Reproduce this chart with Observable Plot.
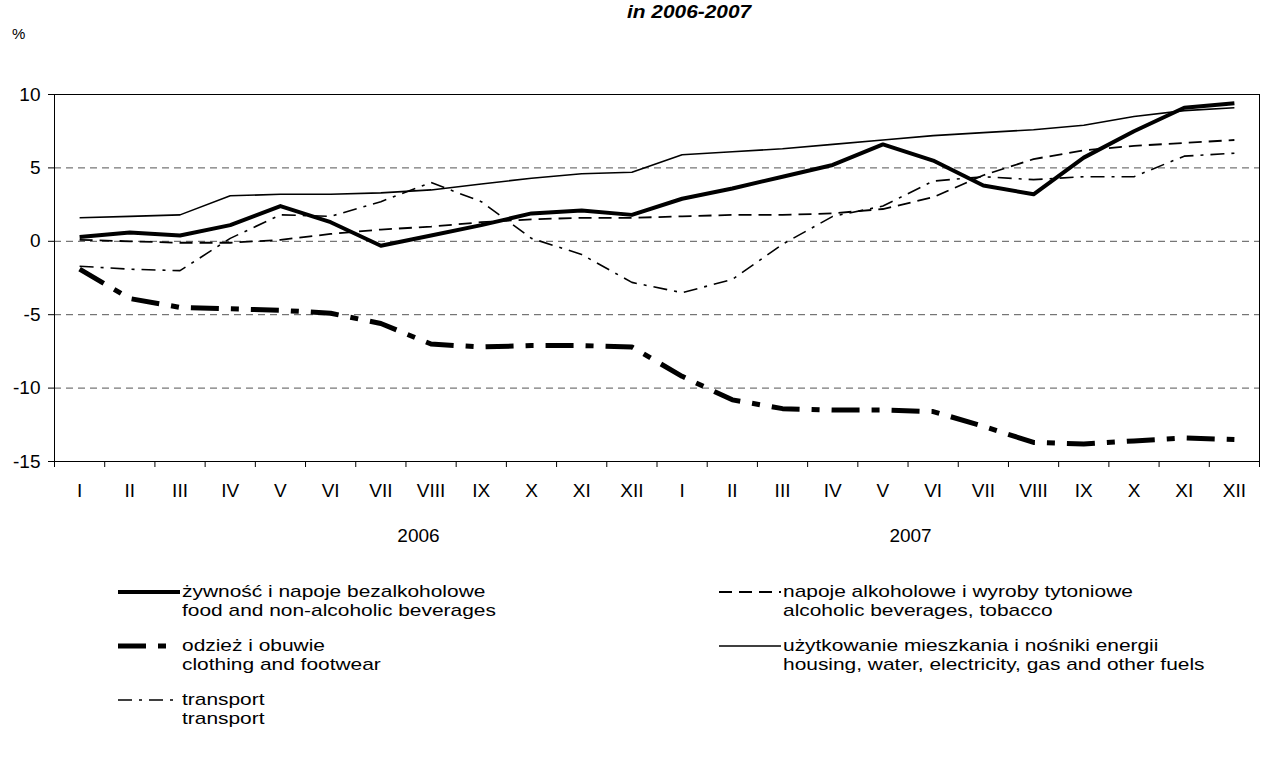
<!DOCTYPE html>
<html><head><meta charset="utf-8">
<script src="https://cdn.jsdelivr.net/npm/d3@7"></script>
<script src="https://cdn.jsdelivr.net/npm/@observablehq/plot@0.6"></script>
<style>
body{margin:0;background:#fff;font-family:"Liberation Sans",Arial,sans-serif;color:#000;}
#wrap{position:relative;width:1267px;height:763px;overflow:hidden;background:#fff;}
#chart{position:absolute;left:0;top:0;z-index:0;}
.title{position:absolute;z-index:2;left:627px;top:2px;font-weight:bold;font-style:italic;font-size:18px;transform:scaleX(1.16);transform-origin:left top;white-space:nowrap;}
.unit{position:absolute;z-index:2;left:12px;top:25px;font-size:15px;}
.leg{position:absolute;z-index:2;display:flex;align-items:flex-start;}
.leg svg{display:block;margin-top:0px;}
.leg .txt{font-size:17px;line-height:19px;margin-left:2px;margin-top:-1px;transform:scaleX(1.23);transform-origin:left top;white-space:nowrap;}
</style></head>
<body><div id="wrap">
<div id="chart"></div>
<div class="title">in 2006-2007</div>
<div class="unit">%</div>
<div id="legend"></div>
</div>
<script>
const months = ["I","II","III","IV","V","VI","VII","VIII","IX","X","XI","XII"];
const years = ["2006","2007"];
const yearPos = [7.25, 17.05];
const yTicks = [-15, -10, -5, 0, 5, 10];
const gridValues = [5, 0, -5, -10];

const food = [0.3,0.6,0.4,1.1,2.4,1.3,-0.3,0.4,1.1,1.9,2.1,1.8, 2.9,3.6,4.4,5.2,6.6,5.5,3.8,3.2,5.7,7.5,9.1,9.4];
const alcohol = [0.1,0.0,-0.1,-0.1,0.1,0.5,0.8,1.0,1.3,1.5,1.6,1.6, 1.7,1.8,1.8,1.9,2.2,3.0,4.5,5.6,6.2,6.5,6.7,6.9];
const clothing = [-1.9,-3.9,-4.5,-4.6,-4.7,-4.9,-5.6,-7.0,-7.2,-7.1,-7.1,-7.2, -9.2,-10.8,-11.4,-11.5,-11.5,-11.6,-12.6,-13.7,-13.8,-13.6,-13.4,-13.5];
const housing = [1.6,1.7,1.8,3.1,3.2,3.2,3.3,3.5,3.9,4.3,4.6,4.7, 5.9,6.1,6.3,6.6,6.9,7.2,7.4,7.6,7.9,8.5,8.9,9.1];
const transport = [-1.7,-1.9,-2.0,0.2,1.8,1.7,2.7,4.0,2.7,0.2,-0.9,-2.8, -3.5,-2.6,-0.2,1.7,2.4,4.1,4.4,4.2,4.4,4.4,5.8,6.0];

const seriesDefs = [
  {key:"clothing", values:clothing, width:5, dash:"28,12,8,12", sample:56, pl:"odzież i obuwie", en:"clothing and footwear"},
  {key:"transport", values:transport, width:1.6, dash:"14,7,3,7", sample:62, pl:"transport", en:"transport"},
  {key:"alcohol", values:alcohol, width:1.8, dash:"13,7", sample:62, pl:"napoje alkoholowe i wyroby tytoniowe", en:"alcoholic beverages, tobacco"},
  {key:"housing", values:housing, width:1.6, dash:null, sample:62, pl:"użytkowanie mieszkania i nośniki energii", en:"housing, water, electricity, gas and other fuels"},
  {key:"food", values:food, width:4, dash:null, sample:62, pl:"żywność i napoje bezalkoholowe", en:"food and non-alcoholic beverages"}
];

const nMonths = food.length;
const lineMarks = seriesDefs.map(s => Plot.line(
  s.values.map((v, i) => ({x: i + 0.5, y: v})),
  {x: "x", y: "y", stroke: "#000", strokeWidth: s.width, strokeDasharray: s.dash || undefined,
   strokeLinejoin: "round", strokeLinecap: "butt", curve: "linear"}
));

const chart = Plot.plot({
  width: 1267,
  height: 570,
  marginTop: 94,
  marginBottom: 109,
  marginLeft: 54,
  marginRight: 8,
  style: {fontFamily: '"Liberation Sans", Arial, sans-serif', fontSize: "19px", color: "#000", background: "#fff"},
  x: {type: "linear", domain: [0, nMonths], axis: null},
  y: {domain: [-15, 10], axis: null},
  marks: [
    Plot.ruleY(gridValues, {stroke: "#555", strokeWidth: 1, strokeDasharray: "7,5"}),
    Plot.ruleY([10], {stroke: "#000", strokeWidth: 1}),
    Plot.ruleX([nMonths], {stroke: "#000", strokeWidth: 1}),
    Plot.axisY({ticks: yTicks, tickSize: 6, tickPadding: 8, label: null, tickFormat: d => String(d), stroke: "#000"}),
    Plot.axisX({ticks: d3.range(nMonths + 1), tickSize: 6, tickFormat: () => "", label: null, stroke: "#000"}),
    Plot.axisX({ticks: d3.range(nMonths).map(i => i + 0.5), tickSize: 0, tickPadding: 22, label: null,
      tickFormat: d => months[Math.floor(d) % 12]}),
    Plot.axisX({ticks: yearPos, tickSize: 0, tickPadding: 67, label: null,
      tickFormat: d => years[yearPos.indexOf(d)]}),
    Plot.ruleX([0], {stroke: "#000", strokeWidth: 1}),
    Plot.ruleY([-15], {stroke: "#000", strokeWidth: 1}),
    ...lineMarks
  ]
});
document.getElementById("chart").appendChild(chart);

// legend
const legendLayout = [
  {key:"food", left:118, top:583},
  {key:"clothing", left:118, top:637},
  {key:"transport", left:118, top:691},
  {key:"alcohol", left:719, top:583},
  {key:"housing", left:719, top:637}
];
const legend = document.getElementById("legend");
legendLayout.forEach(l => {
  const s = seriesDefs.find(d => d.key === l.key);
  const div = document.createElement("div");
  div.className = "leg";
  div.style.left = l.left + "px";
  div.style.top = l.top + "px";
  const ns = "http://www.w3.org/2000/svg";
  const svg = document.createElementNS(ns, "svg");
  svg.setAttribute("width", 62);
  svg.setAttribute("height", 18);
  const ln = document.createElementNS(ns, "line");
  ln.setAttribute("x1", 0); ln.setAttribute("x2", s.sample);
  ln.setAttribute("y1", 9); ln.setAttribute("y2", 9);
  ln.setAttribute("stroke", "#000");
  ln.setAttribute("stroke-width", s.width);
  if (s.dash) ln.setAttribute("stroke-dasharray", s.dash);
  svg.appendChild(ln);
  div.appendChild(svg);
  const t = document.createElement("div");
  t.className = "txt";
  t.innerHTML = s.pl + "<br>" + s.en;
  div.appendChild(t);
  legend.appendChild(div);
});
</script>
</body></html>
